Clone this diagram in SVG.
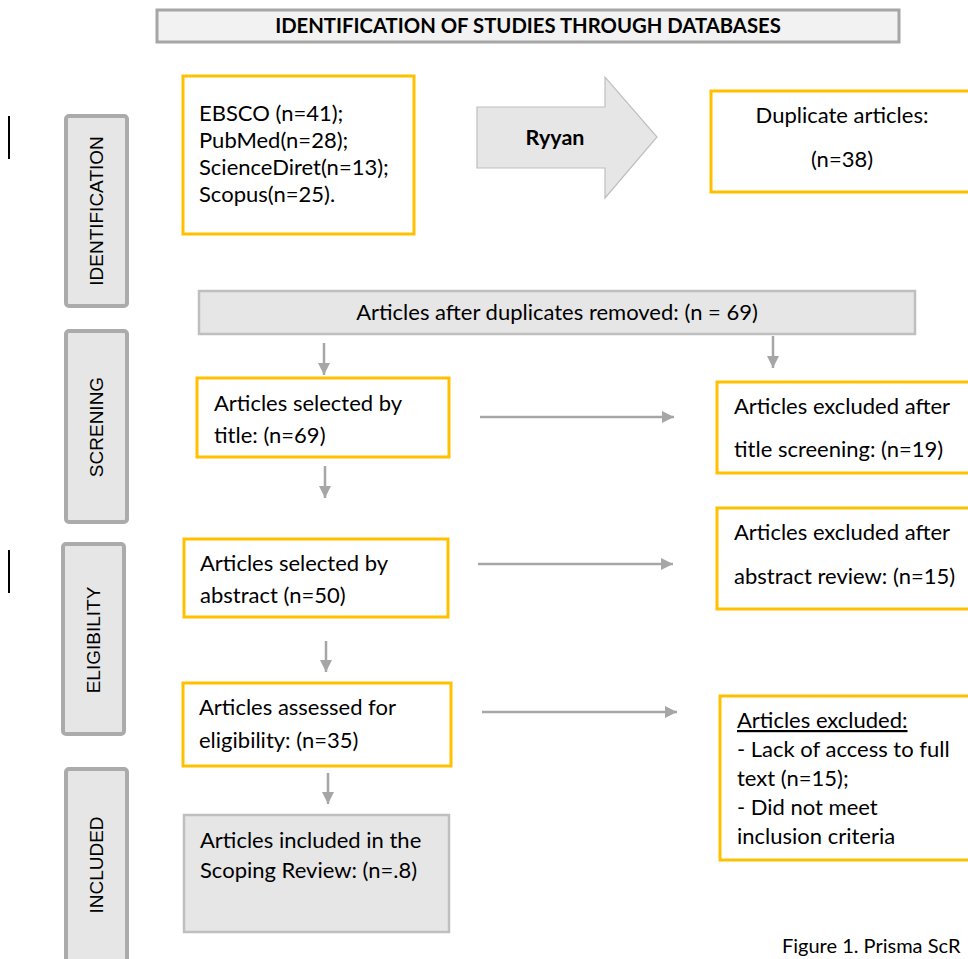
<svg xmlns="http://www.w3.org/2000/svg" width="968" height="959" viewBox="0 0 968 959">
  <style>
    .t { font-family: Lato, "Liberation Sans", sans-serif; font-size: 22px; fill: #000; }
    .b { font-weight: bold; }
    .side { font-family: "Liberation Sans", Arial, sans-serif; font-size: 19px; fill: #000; }
    .stage { fill: #e6e6e6; stroke: #ababab; stroke-width: 4; }
    .box { fill: #fff; stroke: #ffc000; stroke-width: 3; }
    .grey { fill: #e6e6e6; stroke: #bfbfbf; stroke-width: 2.5; }
    .conn { stroke: #a6a6a6; stroke-width: 2.5; fill: none; marker-end: url(#ah); }
    .mark { stroke: #000; stroke-width: 2; }
  </style>
  <defs>
    <marker id="ah" viewBox="0 0 10 10" refX="10" refY="5" markerWidth="4.8" markerHeight="4.8" orient="auto" markerUnits="strokeWidth">
      <path d="M0,0 L10,5 L0,10 Z" fill="#a6a6a6"/>
    </marker>
  </defs>

  <rect width="968" height="959" fill="#fff"/>

  <!-- left margin marks -->
  <line class="mark" x1="9" y1="116" x2="9" y2="159"/>
  <line class="mark" x1="9" y1="550" x2="9" y2="593"/>

  <!-- header -->
  <g id="header">
    <rect x="157" y="10" width="742" height="32" fill="#f2f2f2" stroke="#a6a6a6" stroke-width="3"/>
    <text class="t b" x="528" y="33" style="font-size:20.3px" text-anchor="middle">IDENTIFICATION OF STUDIES THROUGH DATABASES</text>
  </g>

  <!-- stage labels -->
  <g id="stage-identification">
    <rect class="stage" x="66" y="116" width="61" height="190" rx="3"/>
    <text class="side" transform="translate(103,211) rotate(-90)" text-anchor="middle">IDENTIFICATION</text>
  </g>
  <g id="stage-screening">
    <rect class="stage" x="66" y="331" width="61" height="191" rx="3"/>
    <text class="side" transform="translate(103,427) rotate(-90)" text-anchor="middle">SCRENING</text>
  </g>
  <g id="stage-eligibility">
    <rect class="stage" x="63" y="544" width="61" height="190" rx="3"/>
    <text class="side" transform="translate(100,640) rotate(-90)" text-anchor="middle">ELIGIBILITY</text>
  </g>
  <g id="stage-included">
    <rect class="stage" x="66" y="769" width="61" height="200" rx="3"/>
    <text class="side" transform="translate(103,865) rotate(-90)" text-anchor="middle">INCLUDED</text>
  </g>

  <!-- identification -->
  <g id="databases">
    <rect class="box" x="183" y="76" width="231" height="158"/>
    <text class="t" x="199" y="121">EBSCO (n=41);</text>
    <text class="t" x="199" y="148">PubMed(n=28);</text>
    <text class="t" x="199" y="175">ScienceDiret(n=13);</text>
    <text class="t" x="199" y="202">Scopus(n=25).</text>
  </g>
  <g id="ryyan">
    <path d="M477,107 L605,107 L605,77 L657,137 L605,198 L605,168 L477,168 Z" fill="#e6e6e6" stroke="#bfbfbf" stroke-width="1.2"/>
    <text class="t b" x="555" y="145" style="font-size:21.5px" text-anchor="middle">Ryyan</text>
  </g>
  <g id="duplicates">
    <rect class="box" x="711" y="91" width="270" height="101"/>
    <text class="t" x="842" y="123" text-anchor="middle">Duplicate articles:</text>
    <text class="t" x="842" y="167" text-anchor="middle">(n=38)</text>
  </g>
  <g id="after-duplicates">
    <rect class="grey" x="199" y="291" width="716" height="43"/>
    <text class="t" x="557" y="320" text-anchor="middle">Articles after duplicates removed: (n = 69)</text>
  </g>

  <!-- screening / eligibility / included -->
  <g id="by-title">
    <rect class="box" x="197" y="378" width="252" height="79"/>
    <text class="t" x="214" y="411">Articles selected by</text>
    <text class="t" x="214" y="443">title: (n=69)</text>
  </g>
  <g id="excluded-title">
    <rect class="box" x="717" y="382" width="270" height="91"/>
    <text class="t" x="734" y="414">Articles excluded after</text>
    <text class="t" x="734" y="457">title screening: (n=19)</text>
  </g>
  <g id="by-abstract">
    <rect class="box" x="184" y="539" width="264" height="78"/>
    <text class="t" x="200" y="571">Articles selected by</text>
    <text class="t" x="200" y="603">abstract (n=50)</text>
  </g>
  <g id="excluded-abstract">
    <rect class="box" x="717" y="508" width="270" height="101"/>
    <text class="t" x="734" y="540">Articles excluded after</text>
    <text class="t" x="734" y="584">abstract review: (n=15)</text>
  </g>
  <g id="assessed">
    <rect class="box" x="183" y="683" width="268" height="83"/>
    <text class="t" x="199" y="715">Articles assessed for</text>
    <text class="t" x="199" y="748">eligibility: (n=35)</text>
  </g>
  <g id="excluded-full">
    <rect class="box" x="720" y="696" width="270" height="164"/>
    <text class="t" x="737" y="728" text-decoration="underline">Articles excluded:</text>
    <text class="t" x="737" y="757">- Lack of access to full</text>
    <text class="t" x="737" y="786">text (n=15);</text>
    <text class="t" x="737" y="815">- Did not meet</text>
    <text class="t" x="737" y="844">inclusion criteria</text>
  </g>
  <g id="included">
    <rect class="grey" x="184" y="815" width="265" height="117"/>
    <text class="t" x="200" y="848">Articles included in the</text>
    <text class="t" x="200" y="878">Scoping Review: (n=.8)</text>
  </g>

  <!-- connectors -->
  <g id="connectors">
    <line class="conn" x1="324" y1="343" x2="324" y2="375"/>
    <line class="conn" x1="773" y1="336" x2="773" y2="368"/>
    <line class="conn" x1="480" y1="417" x2="674" y2="417"/>
    <line class="conn" x1="325" y1="466" x2="325" y2="498"/>
    <line class="conn" x1="478" y1="564" x2="673" y2="564"/>
    <line class="conn" x1="326" y1="641" x2="326" y2="672"/>
    <line class="conn" x1="482" y1="712" x2="677" y2="712"/>
    <line class="conn" x1="328" y1="773" x2="328" y2="804"/>
  </g>

  <text class="t" x="782" y="953" style="font-size:20px">Figure 1. Prisma ScR</text>
</svg>
